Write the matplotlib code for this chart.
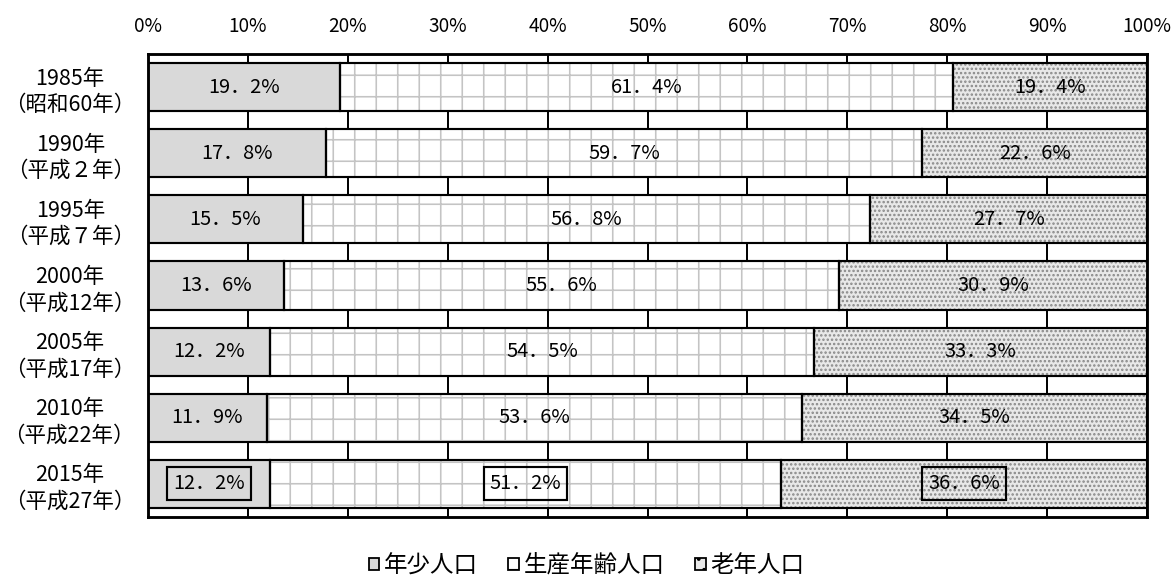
import matplotlib
matplotlib.use("Agg")
import matplotlib.pyplot as plt
from matplotlib.patches import Patch
import numpy as np

plt.rcParams['font.family'] = ['Noto Sans CJK JP', 'DejaVu Sans']
plt.rcParams['hatch.linewidth'] = 0.9

# Population share by age group (percent)
years = ["1985年\n（昭和60年）", "1990年\n（平成２年）", "1995年\n（平成７年）",
         "2000年\n（平成12年）", "2005年\n（平成17年）", "2010年\n（平成22年）",
         "2015年\n（平成27年）"]
youth = [19.2, 17.8, 15.5, 13.6, 12.2, 11.9, 12.2]
working = [61.4, 59.7, 56.8, 55.6, 54.5, 53.6, 51.2]
elderly = [19.4, 22.6, 27.7, 30.9, 33.3, 34.5, 36.6]
series_names = ["年少人口", "生産年齢人口", "老年人口"]
xticks = [0, 10, 20, 30, 40, 50, 60, 70, 80, 90, 100]

DPI = 129
W, H = 1173, 576


def px(p):
    return p * 72.0 / DPI


fig = plt.figure(figsize=(W / DPI, H / DPI), dpi=DPI)
ax = fig.add_axes([148 / W, 1 - 517 / H, 999 / W, 463 / H])

styles = [
    dict(facecolor="#d9d9d9", hatch=None, hatchcolor=None),
    dict(facecolor="white", hatch="+", hatchcolor="#c4c4c4"),
    dict(facecolor="#e8e8e8", hatch=".....", hatchcolor="#888888"),
]

y = np.arange(len(years))
bar_h = 0.73
data = [youth, working, elderly]
left = np.zeros(len(years))
for vals, st in zip(data, styles):
    vals = np.asarray(vals)
    if st["hatch"]:
        ax.barh(y, vals, left=left, height=bar_h, color=st["facecolor"],
                edgecolor=st["hatchcolor"], linewidth=0, hatch=st["hatch"], zorder=2)
    else:
        ax.barh(y, vals, left=left, height=bar_h, color=st["facecolor"],
                linewidth=0, zorder=2)
    ax.barh(y, vals, left=left, height=bar_h, fill=False,
            edgecolor="black", linewidth=1.2, zorder=3)
    left = left + vals

# Value labels centred in each segment; the latest year is boxed
left = np.zeros(len(years))
for vals in data:
    for i, v in enumerate(vals):
        label = f"{v:.1f}%".replace(".", "．")
        kw = {}
        if i == len(years) - 1:
            kw["bbox"] = dict(boxstyle="square,pad=0.3", facecolor="none",
                              edgecolor="black", linewidth=1.2)
        ax.text(left[i] + v / 2, y[i], label, ha="center", va="center",
                fontsize=px(20), color="black", zorder=5, **kw)
    left = left + np.asarray(vals)

ax.set_xlim(0, 100)
ax.set_ylim(len(years) - 0.5, -0.5)
ax.set_xticks(xticks)
ax.set_xticklabels([f"{t}%" for t in xticks], fontsize=px(19))
ax.xaxis.tick_top()
ax.tick_params(axis="x", length=0, pad=px(17))
ax.set_yticks(y)
ax.set_yticklabels(years, fontsize=px(21.5), multialignment="center",
                   linespacing=1.25)
ax.tick_params(axis="y", length=0, pad=px(13))

ax.grid(axis="x", color="black", linewidth=1.1, zorder=0)
ax.set_axisbelow(True)
for s in ax.spines.values():
    s.set_linewidth(1.6)
    s.set_color("black")

handles = []
for st in styles:
    if st["hatch"]:
        handles.append(Patch(facecolor=st["facecolor"], edgecolor="black",
                             linewidth=1.0, hatch=st["hatch"][:2]))
    else:
        handles.append(Patch(facecolor=st["facecolor"], edgecolor="black",
                             linewidth=1.0))
fig.legend(handles, series_names, loc="center", ncol=3,
           bbox_to_anchor=(0.5, 1 - 566 / H), frameon=False,
           fontsize=px(23.5), handlelength=0.45, handleheight=0.45,
           handletextpad=0.2, columnspacing=1.3)

fig.savefig("out.png", dpi=DPI)
